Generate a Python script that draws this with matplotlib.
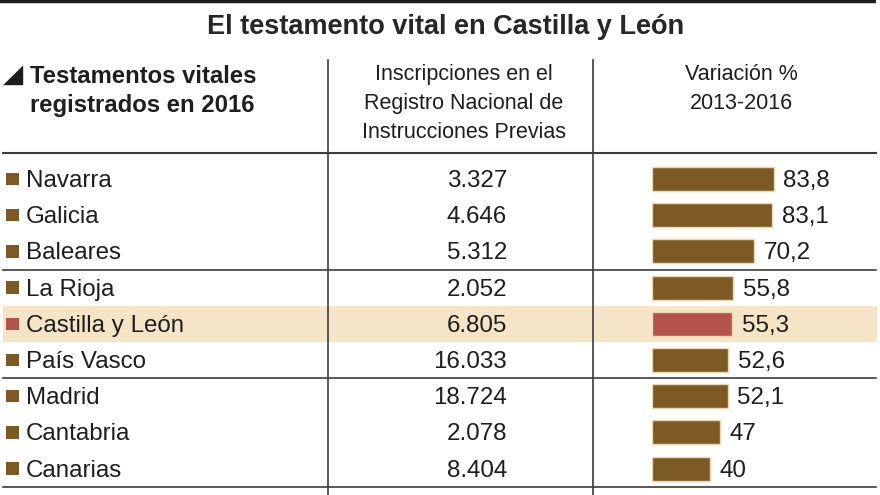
import matplotlib
matplotlib.use("Agg")
import matplotlib.pyplot as plt

# ---- data ----
regions = ["Navarra", "Galicia", "Baleares", "La Rioja", "Castilla y León",
           "País Vasco", "Madrid", "Cantabria", "Canarias"]
inscripciones = ["3.327", "4.646", "5.312", "2.052", "6.805",
                 "16.033", "18.724", "2.078", "8.404"]
variacion = [83.8, 83.1, 70.2, 55.8, 55.3, 52.6, 52.1, 47, 40]
variacion_labels = ["83,8", "83,1", "70,2", "55,8", "55,3", "52,6", "52,1", "47", "40"]
highlight = "Castilla y León"

title = "El testamento vital en Castilla y León"
head_left = ["Testamentos vitales", "registrados en 2016"]
head_mid = ["Inscripciones en el", "Registro Nacional de", "Instrucciones Previas"]
head_right = ["Variación %", "2013-2016"]

# ---- style ----
BROWN = "#7d5a24"
RED = "#b5534a"
BAND = "#f5e4c6"
EDGE = "#ead6b0"
TXT = "#1e1e1e"
LINE = "#3c3c3c"
FONT = "Liberation Sans"
plt.rcParams["font.family"] = [FONT, "DejaVu Sans"]

W, H = 880, 495
ROW0, ROWH = 179.0, 36.2          # pixel centre of first row, row pitch
FS = 17.4


def r(py):
    """pixel y -> row units"""
    return (py - ROW0) / ROWH


fig = plt.figure(figsize=(W / 100, H / 100), dpi=100)
ax = fig.add_axes([0, 0, 1, 1])
ax.set_xlim(0, W)
ax.set_ylim(r(H), r(0))
ax.axis("off")

# top black rule
ax.plot([0, 876], [r(1.5), r(1.5)], color="#1c1c1c", lw=3.2, solid_capstyle="butt")

# title
ax.text(446, r(34), title, ha="center", va="baseline", fontsize=19.5,
        fontweight="bold", color="#262626")

# headers
ax.text(3, r(81.5), "◢", family="DejaVu Sans", fontsize=19, color="#1e1e1e",
        va="baseline", ha="left")
for k, s in enumerate(head_left):
    ax.text(30, r(83 + 29 * k), s, fontsize=17.2, fontweight="bold", color=TXT,
            va="baseline", ha="left")
for k, s in enumerate(head_mid):
    ax.text(464, r(80.5 + 29 * k), s, fontsize=15.5, color=TXT,
            va="baseline", ha="center")
for k, s in enumerate(head_right):
    ax.text(741, r(80.5 + 29 * k), s, fontsize=15.5, color=TXT,
            va="baseline", ha="center")

n = len(regions)
rows = list(range(n))

# highlight band
hi = regions.index(highlight)
ax.axhspan(hi - 0.5, hi + 0.5, xmin=3 / W, xmax=877 / W, color=BAND, lw=0, zorder=0)

# rules
ax.plot([3, 876], [r(153), r(153)], color=LINE, lw=1.5)
for sep in [2.5, 5.5, 8.5]:
    ax.plot([3, 876], [sep, sep], color=LINE, lw=1.2)
for vx in [327.5, 593]:
    ax.plot([vx, vx], [r(60), r(H)], color=LINE, lw=1.2)

colors = [RED if reg == highlight else BROWN for reg in regions]

# row labels, markers, numbers
ax.scatter([12.5] * n, rows, marker="s", s=82, c=colors, lw=0, zorder=3)
for i, (reg, num) in enumerate(zip(regions, inscripciones)):
    ax.text(26, i + 0.22, reg, fontsize=FS, color=TXT, va="baseline", ha="left")
    ax.text(507, i + 0.22, num, fontsize=FS, color=TXT, va="baseline", ha="right")

# bar axes
x0 = 652
px_per_unit = 1.45
bx = fig.add_axes([x0 / W, 0, (W - x0) / W, 1])
bx.set_xlim(0, (W - x0) / px_per_unit)
bx.set_ylim(r(H), r(0))
bx.axis("off")
bx.patch.set_alpha(0)
bx.barh(rows, variacion, height=0.66, color=colors, edgecolor=EDGE, linewidth=1.0)
for i, (v, lab) in enumerate(zip(variacion, variacion_labels)):
    bx.annotate(lab, (v, i + 0.22), xytext=(7, 0), textcoords="offset points",
                fontsize=FS, color=TXT, va="baseline", ha="left")

fig.savefig("out.png", dpi=100)
